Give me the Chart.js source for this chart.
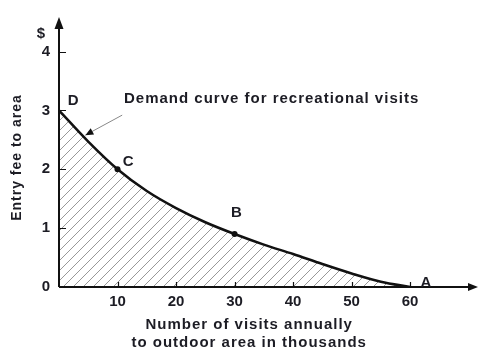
<!DOCTYPE html>
<html>
<head>
<meta charset="utf-8">
<script src="https://cdn.jsdelivr.net/npm/chart.js@4.4.1/dist/chart.umd.min.js"></script>
<style>
  html, body { margin: 0; padding: 0; background: #fff; }
</style>
</head>
<body>
<canvas id="demandChart" width="480" height="353"></canvas>
<script>
// demand curve (visits in thousands, fee in $)
const visits = [0, 5, 10, 15, 20, 25, 30, 35, 40, 45, 50, 55, 60];
const entryFee = [3, 2.47, 2, 1.63, 1.34, 1.1, 0.9, 0.72, 0.56, 0.39, 0.23, 0.09, 0];
const dottedVisits = [10, 30];
const xTickValues = [10, 20, 30, 40, 50, 60];
const yTickValues = [0, 1, 2, 3, 4];
const pointLetters = ['D', 'C', 'B', 'A'];
const letterAnchors = [[2.4, 3.16], [11.8, 2.13], [30.3, 1.26], [62.7, 0.07]];
const calloutText = 'Demand curve for recreational visits';
const xTitleLines = ['Number of visits annually', 'to outdoor area in thousands'];
const yTitle = 'Entry fee to area';

const INK = '#1c1c24';
const FONT = '"Liberation Sans", Arial, Helvetica, sans-serif';

function makeHatch() {
  const c = document.createElement('canvas');
  c.width = 10; c.height = 10;
  const g = c.getContext('2d');
  g.strokeStyle = '#8c8c8c';
  g.lineWidth = 0.9;
  g.beginPath();
  g.moveTo(0, 10); g.lineTo(10, 0);
  g.moveTo(-1, 1); g.lineTo(1, -1);
  g.moveTo(9, 11); g.lineTo(11, 9);
  g.stroke();
  return g.createPattern(c, 'repeat');
}

function arrowHead(ctx, x, y, angle, len, half) {
  ctx.save();
  ctx.translate(x, y);
  ctx.rotate(angle);
  ctx.beginPath();
  ctx.moveTo(0, 0);
  ctx.lineTo(-len, -half);
  ctx.lineTo(-len, half);
  ctx.closePath();
  ctx.fill();
  ctx.restore();
}

const axesAndLabels = {
  id: 'axesAndLabels',
  afterDatasetsDraw(chart) {
    const ctx = chart.ctx;
    const xs = chart.scales.x, ys = chart.scales.y;
    const x0 = xs.getPixelForValue(0), y0 = ys.getPixelForValue(0);
    const area = chart.chartArea;
    ctx.save();
    ctx.strokeStyle = '#111';
    ctx.fillStyle = '#111';
    ctx.lineWidth = 2;

    // axes with arrows
    ctx.beginPath();
    ctx.moveTo(x0, y0); ctx.lineTo(x0, area.top + 8);
    ctx.moveTo(x0, y0); ctx.lineTo(area.right - 8, y0);
    ctx.stroke();
    arrowHead(ctx, x0, area.top - 1, -Math.PI / 2, 12, 4.5);
    arrowHead(ctx, area.right, y0, 0, 10, 4);

    // inside tick marks
    ctx.lineWidth = 1.2;
    ctx.beginPath();
    yTickValues.filter(v => v > 0).forEach(v => {
      const py = Math.round(ys.getPixelForValue(v)) + 0.5;
      ctx.moveTo(x0, py); ctx.lineTo(x0 + 7, py);
    });
    xTickValues.forEach(v => {
      const px = Math.round(xs.getPixelForValue(v)) + 0.5;
      ctx.moveTo(px, y0); ctx.lineTo(px, y0 - 5);
    });
    ctx.stroke();

    ctx.fillStyle = INK;
    ctx.font = 'bold 15px ' + FONT;
    ctx.textBaseline = 'middle';
    ctx.textAlign = 'center';

    // $ unit
    ctx.fillText('$', x0 - 18, ys.getPixelForValue(4.3));

    // point letters
    pointLetters.forEach((t, i) => {
      const [vx, vy] = letterAnchors[i];
      ctx.fillText(t, xs.getPixelForValue(vx), ys.getPixelForValue(vy));
    });

    // callout text + pointer
    ctx.letterSpacing = '1px';
    ctx.textAlign = 'left';
    ctx.fillText(calloutText, xs.getPixelForValue(11.1), ys.getPixelForValue(3.19));
    ctx.strokeStyle = '#888';
    ctx.lineWidth = 1;
    const ax = xs.getPixelForValue(10.8), ay = ys.getPixelForValue(2.92);
    const bx = xs.getPixelForValue(4.5), by = ys.getPixelForValue(2.58);
    ctx.beginPath(); ctx.moveTo(ax, ay); ctx.lineTo(bx, by); ctx.stroke();
    ctx.fillStyle = '#111';
    arrowHead(ctx, bx, by, Math.atan2(by - ay, bx - ax), 8, 3.5);

    // axis titles
    ctx.fillStyle = INK;
    ctx.textAlign = 'center';
    const tx = xs.getPixelForValue(32.5);
    ctx.fillText(xTitleLines[0], tx, y0 + 38);
    ctx.fillText(xTitleLines[1], tx, y0 + 56);

    ctx.font = 'bold 14px ' + FONT;
    ctx.translate(17, ys.getPixelForValue(2.2));
    ctx.rotate(-Math.PI / 2);
    ctx.fillText(yTitle, 0, 0);
    ctx.restore();
  }
};

const ctx = document.getElementById('demandChart').getContext('2d');
new Chart(ctx, {
  type: 'line',
  data: {
    datasets: [{
      data: visits.map((v, i) => ({ x: v, y: entryFee[i] })),
      borderColor: '#111',
      borderWidth: 2.5,
      cubicInterpolationMode: 'monotone',
      fill: 'origin',
      backgroundColor: makeHatch(),
      pointRadius: visits.map(v => dottedVisits.includes(v) ? 3 : 0),
      pointBackgroundColor: '#111',
      pointBorderWidth: 0
    }]
  },
  options: {
    responsive: false,
    animation: false,
    layout: { padding: { top: 15, right: 2, left: 0, bottom: 0 } },
    plugins: { legend: { display: false }, tooltip: { enabled: false } },
    scales: {
      x: {
        type: 'linear',
        min: 0,
        max: 71.6,
        afterFit: s => { s.height = 66; },
        afterBuildTicks: s => { s.ticks = xTickValues.map(v => ({ value: v })); },
        grid: { display: false, drawTicks: false },
        border: { display: false },
        ticks: { color: INK, padding: 6, maxRotation: 0, font: { family: FONT, size: 15, weight: 'bold' } }
      },
      y: {
        min: 0,
        max: 4.57,
        afterFit: s => { s.width = 59; },
        afterBuildTicks: s => { s.ticks = yTickValues.map(v => ({ value: v })); },
        grid: { display: false, drawTicks: false },
        border: { display: false },
        ticks: { color: INK, padding: 9, font: { family: FONT, size: 15, weight: 'bold' } }
      }
    }
  },
  plugins: [axesAndLabels]
});
</script>
</body>
</html>
